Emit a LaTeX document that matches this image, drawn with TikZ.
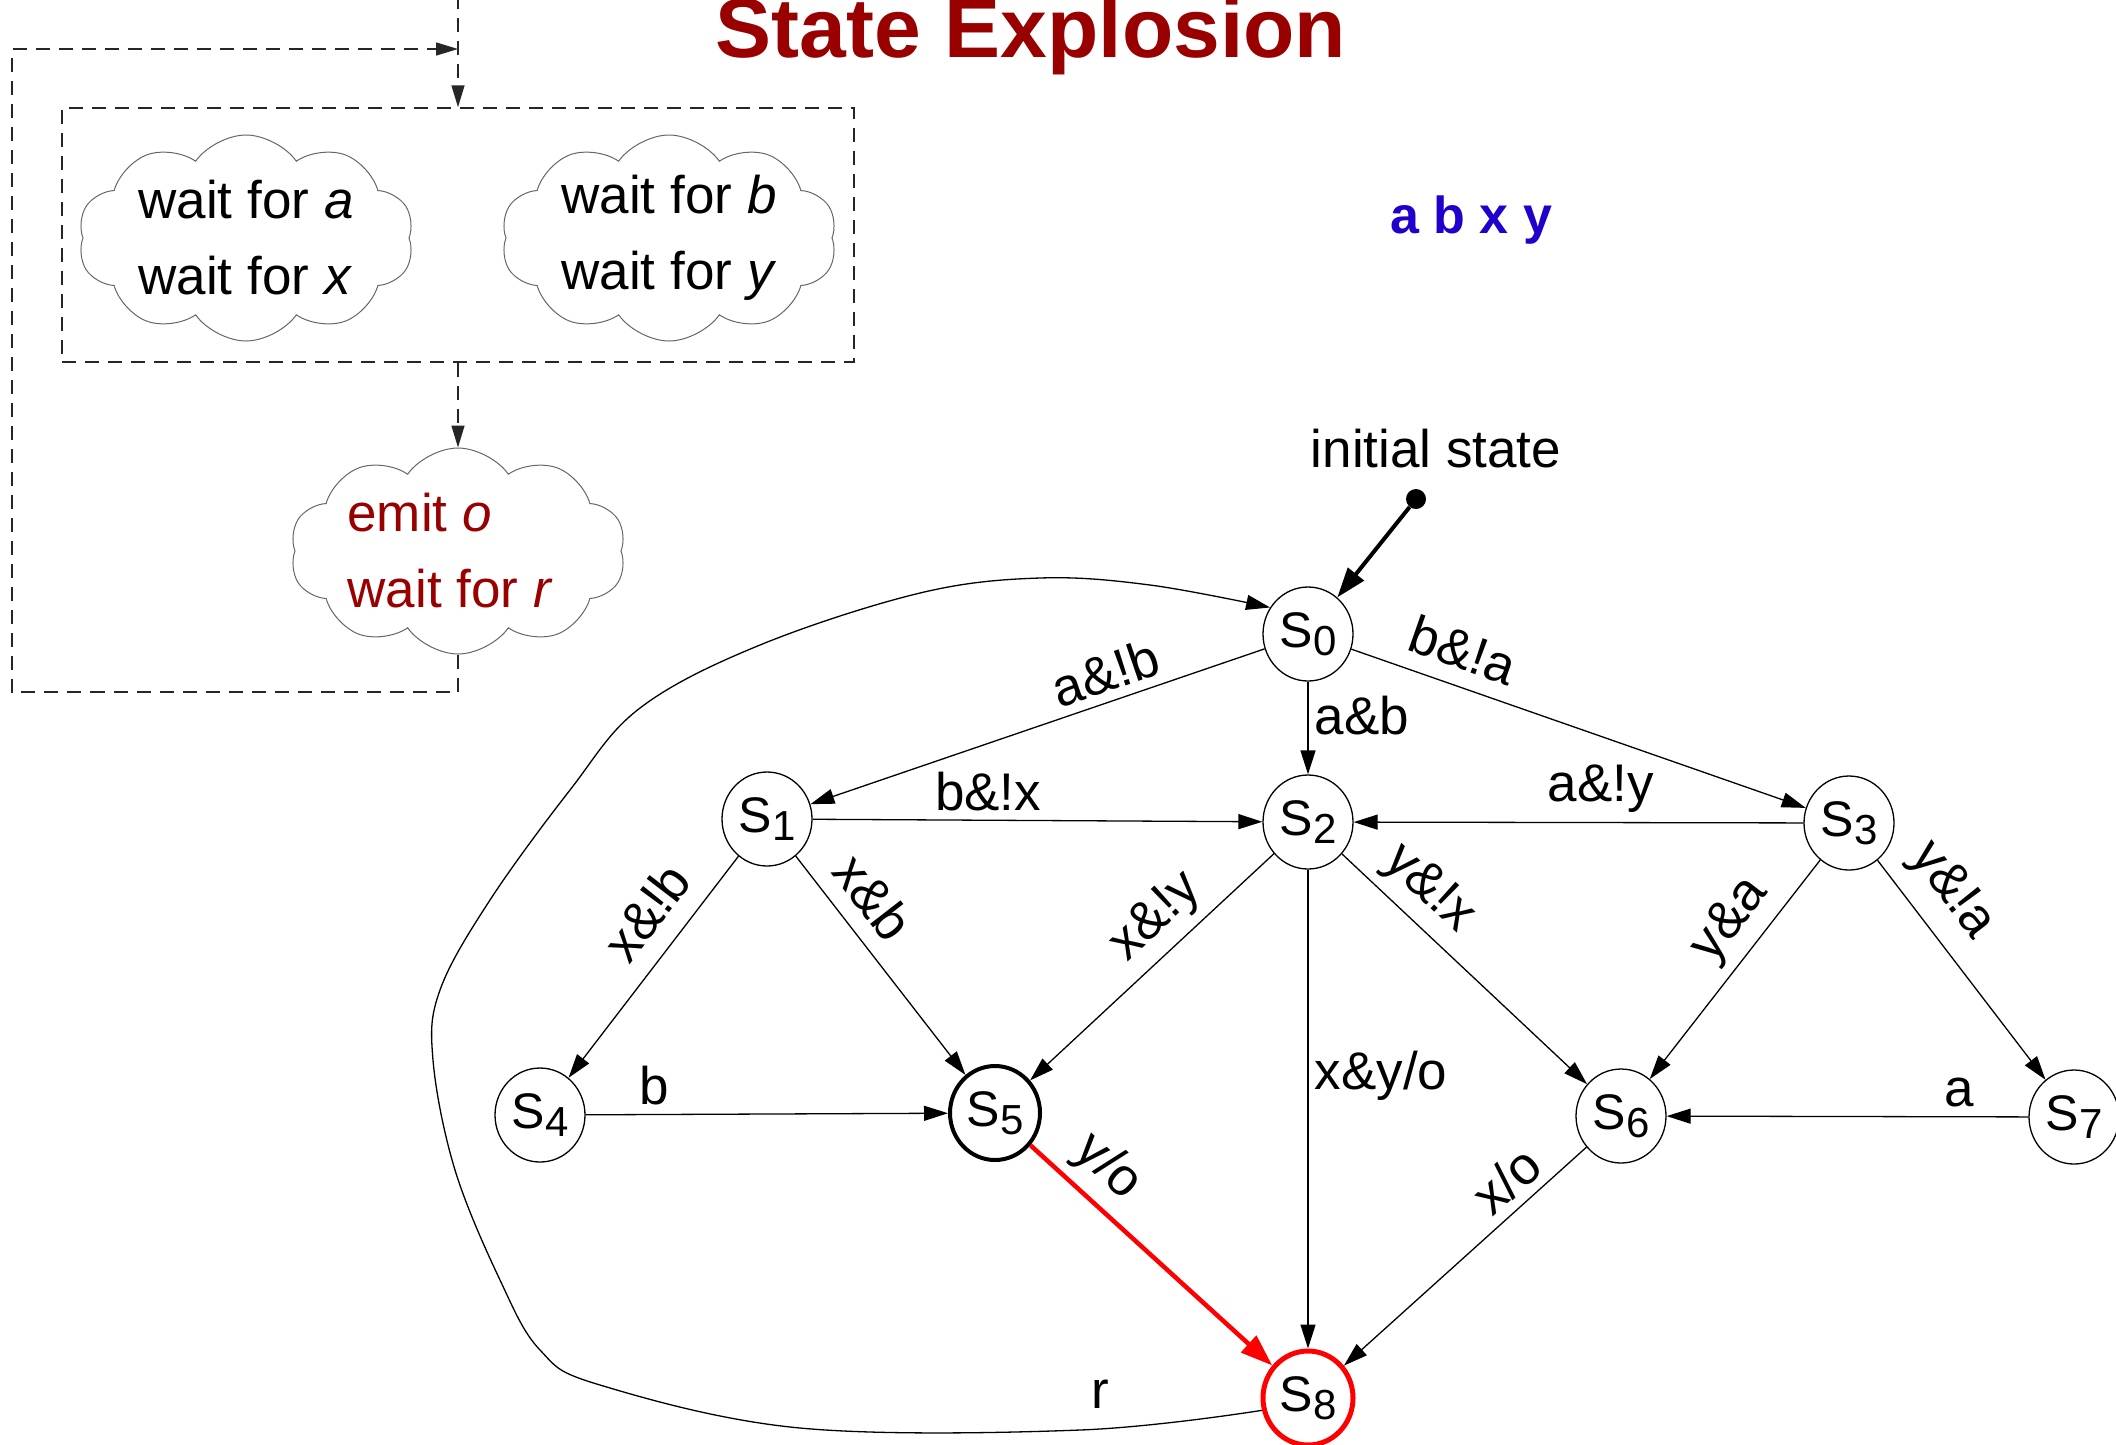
\documentclass[tikz,border=0pt]{standalone}
\usepackage{fontspec}
\setmainfont{Liberation Sans}
\usetikzlibrary{arrows.meta,shapes.geometric,shapes.symbols}
\definecolor{titlered}{HTML}{990000}
\definecolor{abxy}{HTML}{2200CC}
\definecolor{edgered}{HTML}{FF0000}
\newcommand{\stname}[1]{S\raisebox{-8pt}{\fontsize{42}{42}\selectfont #1}}
\begin{document}
\begin{tikzpicture}[x=1pt,y=-1pt,
  every node/.style={font=\fontsize{53}{76}\selectfont},
  stnode/.style={ellipse, draw, line width=1.3pt, minimum width=90pt, minimum height=94pt, inner sep=0pt, font=\fontsize{50}{60}\selectfont},
  conn/.style={line width=1.3pt, -{Triangle[length=24pt,width=15pt]}},
  lab/.style={inner sep=9pt},
  farlab/.style={inner sep=16pt},
  cloudy/.style={cloud, cloud puffs=10, cloud puff arc=110, cloud ignores aspect, draw=black!60, line width=1pt, minimum width=336pt, minimum height=206pt, inner sep=0pt},
  dashline/.style={line width=1.5pt, draw=black!85, dash pattern=on 14pt off 9pt},
  dasharrow/.style={dashline, -{Triangle[length=22pt,width=13pt]}},
]
\useasboundingbox (0,0) rectangle (2116,1444);

% title and signals
\node[font=\fontsize{84}{90}\selectfont\bfseries, text=titlered, anchor=base] (title) at (1031,57) {State Explosion};
\node[font=\fontsize{52}{60}\selectfont\bfseries, text=abxy, anchor=base] (sig) at (1471,233) {a b x y};

% dashed box and clouds
\node[dashline, draw, minimum width=792pt, minimum height=254pt, inner sep=0pt] (box) at (458,235) {};
\node[cloudy] (c1) at (246,238) {};
\node[align=left] (t1) at (c1.center) {wait for \textit{a}\\wait for \textit{x}};
\node[cloudy] (c2) at (669,238) {};
\node[align=left] (t2) at (c2.center) {wait for \textit{b}\\wait for \textit{y}};
\node[cloudy] (c3) at (458,551) {};
\node[align=left, text=titlered] (t3) at ([xshift=-8pt]c3.center) {emit \textit{o}\\wait for \textit{r}};

\coordinate (topIn) at (458,-5);
\coordinate (loopEnd) at (458,49);
\coordinate (loopTL) at (12,49);
\coordinate (loopBL) at (12,692);
\coordinate (loopBR) at (458,692);
\draw[dasharrow] (topIn) -- (box.north);
\draw[dasharrow] (box.south) -- (c3.north);
\draw[dasharrow] (c3.south) -- (loopBR) -- (loopBL) -- (loopTL) -- (loopEnd);

% states
\node[stnode] (S0) at (1308,634) {\stname0};
\node[stnode] (S1) at (767,819) {\stname1};
\node[stnode] (S2) at (1308,822) {\stname2};
\node[stnode] (S3) at (1849,823) {\stname3};
\node[stnode] (S4) at (540,1115) {\stname4};
\node[stnode, line width=4pt] (S5) at (995,1113) {\stname5};
\node[stnode] (S6) at (1621,1116) {\stname6};
\node[stnode] (S7) at (2074,1117) {\stname7};
\node[stnode, line width=5pt, draw=edgered] (S8) at (1308,1398) {\stname8};

% initial state
\node[circle, fill=black, minimum size=20pt, inner sep=0pt] (init) at (1416,499) {};
\node (initlab) at (1436,449) {initial state};
\draw[line width=4pt, -{Triangle[length=30pt,width=20pt]}] (init) -- (S0);

% transitions
\draw[conn] (S0) -- node[lab, sloped, above, pos=0.33] {a\&!b} (S1);
\draw[conn] (S0) -- node[lab, right, pos=0.37, inner sep=6pt] {a\&b} (S2);
\draw[conn] (S0) -- node[farlab, sloped, above, pos=0.22] {b\&!a} (S3);
\draw[conn] (S1) -- node[lab, above, pos=0.39] {b\&!x} (S2);
\draw[conn] (S3) -- node[lab, above, pos=0.45] {a\&!y} (S2);
\draw[conn] (S1) -- node[farlab, sloped, above, pos=0.36, inner sep=19pt] {x\&!b} (S4);
\draw[conn] (S1) -- node[farlab, sloped, above, pos=0.29] {x\&b} (S5);
\draw[conn] (S2) -- node[lab, sloped, above, pos=0.39] {x\&!y} (S5);
\draw[conn] (S2) -- node[lab, sloped, above, pos=0.26] {y\&!x} (S6);
\draw[conn] (S2) -- node[lab, right, pos=0.43, inner sep=6pt] {x\&y/o} (S8);
\draw[conn] (S3) -- node[lab, sloped, above, pos=0.37] {y\&a} (S6);
\draw[conn] (S3) -- node[farlab, sloped, above, pos=0.25] {y\&!a} (S7);
\draw[conn] (S4) -- node[lab, above, pos=0.19] {b} (S5);
\draw[conn] (S7) -- node[lab, above, pos=0.19] {a} (S6);
\draw[conn] (S6) -- node[lab, sloped, above, pos=0.25] {x/o} (S8);
\draw[line width=4.5pt, draw=edgered, -{Triangle[length=32pt,width=22pt]}, edgered] (S5) -- node[lab, sloped, above, pos=0.22, text=black] {y/o} (S8);

% reset transition
\draw[conn] plot[smooth, tension=0.6] coordinates {(S8.195) (1080,1430) (800,1428) (600,1385) (540,1350) (500,1280) (455,1170) (433,1060) (440,990) (490,900) (570,790) (640,708) (760,645) (920,593) (1040,578) (1150,585) (S0.145)};
\node (rlab) at (1100,1394) {r};
\end{tikzpicture}
\end{document}
